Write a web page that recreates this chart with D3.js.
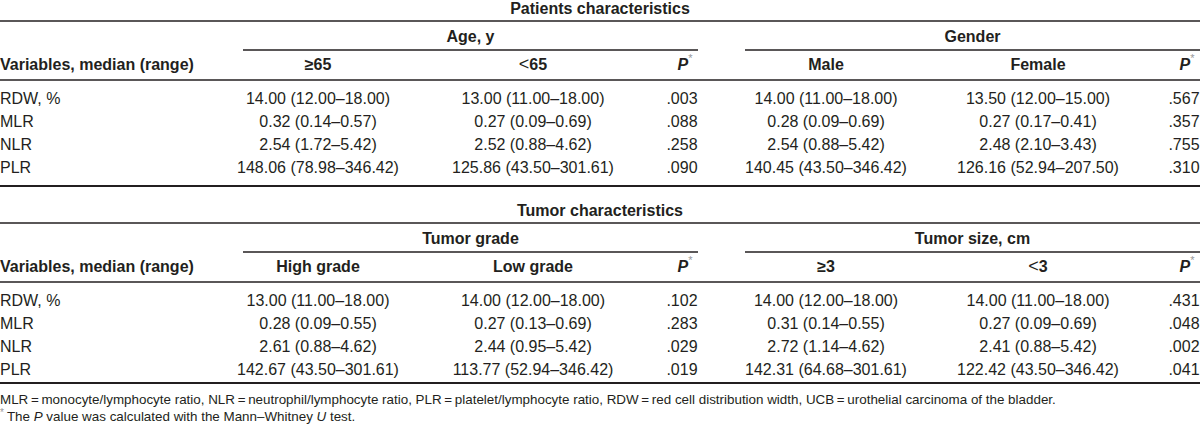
<!DOCTYPE html>
<html><head><meta charset="utf-8">
<script src="https://cdn.jsdelivr.net/npm/d3@7"></script>
<style>
html,body{margin:0;padding:0;background:#fff;}
svg text{font-family:"Liberation Sans",Arial,sans-serif;fill:#231f20;}
</style></head>
<body><svg id="c" width="1200" height="433"></svg>
<script>
// ---- data ----
const variables = ["RDW, %", "MLR", "NLR", "PLR"];

// Patients characteristics
const ageGe65Median = [14.00, 0.32, 2.54, 148.06];
const ageGe65Low    = [12.00, 0.14, 1.72, 78.98];
const ageGe65High   = [18.00, 0.57, 5.42, 346.42];
const ageLt65Median = [13.00, 0.27, 2.52, 125.86];
const ageLt65Low    = [11.00, 0.09, 0.88, 43.50];
const ageLt65High   = [18.00, 0.69, 4.62, 301.61];
const ageP          = [0.003, 0.088, 0.258, 0.090];
const maleMedian    = [14.00, 0.28, 2.54, 140.45];
const maleLow       = [11.00, 0.09, 0.88, 43.50];
const maleHigh      = [18.00, 0.69, 5.42, 346.42];
const femaleMedian  = [13.50, 0.27, 2.48, 126.16];
const femaleLow     = [12.00, 0.17, 2.10, 52.94];
const femaleHigh    = [15.00, 0.41, 3.43, 207.50];
const genderP       = [0.567, 0.357, 0.755, 0.310];

// Tumor characteristics
const highGradeMedian = [13.00, 0.28, 2.61, 142.67];
const highGradeLow    = [11.00, 0.09, 0.88, 43.50];
const highGradeHigh   = [18.00, 0.55, 4.62, 301.61];
const lowGradeMedian  = [14.00, 0.27, 2.44, 113.77];
const lowGradeLow     = [12.00, 0.13, 0.95, 52.94];
const lowGradeHigh    = [18.00, 0.69, 5.42, 346.42];
const gradeP          = [0.102, 0.283, 0.029, 0.019];
const sizeGe3Median   = [14.00, 0.31, 2.72, 142.31];
const sizeGe3Low      = [12.00, 0.14, 1.14, 64.68];
const sizeGe3High     = [18.00, 0.55, 4.62, 301.61];
const sizeLt3Median   = [14.00, 0.27, 2.41, 122.42];
const sizeLt3Low      = [11.00, 0.09, 0.88, 43.50];
const sizeLt3High     = [18.00, 0.69, 5.42, 346.42];
const sizeP           = [0.431, 0.048, 0.002, 0.041];

const tableTitles = ["Patients characteristics", "Tumor characteristics"];
const groupLabels = [["Age, y", "Gender"], ["Tumor grade", "Tumor size, cm"]];
const subLabels = [[["\u226565"], ["<", "65"], ["Male"], ["Female"]],
                   [["High grade"], ["Low grade"], ["\u22653"], ["<", "3"]]];
const stubHeader = "Variables, median (range)";
const footnote1 = "MLR\u2009=\u2009monocyte/lymphocyte ratio, NLR\u2009=\u2009neutrophil/lymphocyte ratio, PLR\u2009=\u2009platelet/lymphocyte ratio, RDW\u2009=\u2009red cell distribution width, UCB\u2009=\u2009urothelial carcinoma of the bladder.";

const tables = [
  { cols: [[ageGe65Median, ageGe65Low, ageGe65High], [ageLt65Median, ageLt65Low, ageLt65High],
           [maleMedian, maleLow, maleHigh], [femaleMedian, femaleLow, femaleHigh]],
    p: [ageP, genderP] },
  { cols: [[highGradeMedian, highGradeLow, highGradeHigh], [lowGradeMedian, lowGradeLow, lowGradeHigh],
           [sizeGe3Median, sizeGe3Low, sizeGe3High], [sizeLt3Median, sizeLt3Low, sizeLt3High]],
    p: [gradeP, sizeP] }
];

// ---- layout ----
const W = 1200;
const svg = d3.select("#c");
const ink = "#231f20";
const FS = 16;
const colX = d3.scaleOrdinal().domain(["a","b","pa","c","d","pb"]).range([318, 533, 682, 826, 1038, 1184]);
const groupSpan = [[243, 698], [745, 1200]];
const fmt = v => v.toFixed(2);
const fmtP = v => v.toFixed(3).replace(/^0/, "");

const tableTop = [0, 202];
const bottomLine = [186, 181];

tables.forEach((t, ti) => {
  const g = svg.append("g").attr("transform", `translate(0,${tableTop[ti]})`);
  const y = d3.scalePoint().domain(variables).range([104, 173]);

  g.append("text").attr("x", W/2).attr("y", 14).attr("text-anchor", "middle")
    .attr("font-size", FS).attr("font-weight", "bold").text(tableTitles[ti]);
  g.append("line").attr("x1", 0).attr("x2", W).attr("y1", 21).attr("y2", 21)
    .attr("stroke", ink).attr("stroke-width", 1.3);

  groupSpan.forEach((s, gi) => {
    g.append("text").attr("x", (s[0]+s[1])/2).attr("y", 42).attr("text-anchor", "middle")
      .attr("font-size", FS).attr("font-weight", "bold").text(groupLabels[ti][gi]);
    g.append("line").attr("x1", s[0]).attr("x2", s[1]).attr("y1", 50).attr("y2", 50)
      .attr("stroke", ink).attr("stroke-width", 1.3);
  });

  g.append("text").attr("x", 0).attr("y", 70).attr("font-size", FS).attr("font-weight", "bold").text(stubHeader);
  ["a","b","c","d"].forEach((k, ci) => {
    const parts = subLabels[ti][ci];
    const tx = g.append("text").attr("x", colX(k)).attr("y", 70).attr("text-anchor", "middle")
      .attr("font-size", FS).attr("font-weight", "bold");
    if (parts.length === 2) {
      tx.append("tspan").attr("font-weight", "normal").attr("font-size", FS+2).text(parts[0]);
      tx.append("tspan").text(parts[1]);
    } else tx.text(parts[0]);
  });
  ["pa","pb"].forEach(k => {
    const tx = g.append("text").attr("x", colX(k) + 3).attr("y", 70).attr("text-anchor", "middle")
      .attr("font-size", FS).attr("font-weight", "bold");
    tx.append("tspan").attr("font-style", "italic").text("P");
    tx.append("tspan").attr("font-size", 11).attr("font-weight", "normal").attr("dy", -8).attr("fill", "#999").text("*");
  });
  g.append("line").attr("x1", 0).attr("x2", W).attr("y1", 80).attr("y2", 80)
    .attr("stroke", ink).attr("stroke-width", 1.3);

  variables.forEach(v => {
    g.append("text").attr("x", 0).attr("y", y(v)).attr("font-size", FS).text(v);
  });
  ["a","b","c","d"].forEach((k, ci) => {
    const [med, lo, hi] = t.cols[ci];
    g.selectAll(null).data(variables).enter().append("text")
      .attr("x", colX(k)).attr("y", d => y(d)).attr("text-anchor", "middle").attr("font-size", FS)
      .text((d, i) => `${fmt(med[i])} (${fmt(lo[i])}\u2013${fmt(hi[i])})`);
  });
  ["pa","pb"].forEach((k, pi) => {
    g.selectAll(null).data(variables).enter().append("text")
      .attr("x", colX(k)).attr("y", d => y(d)).attr("text-anchor", "middle").attr("font-size", FS)
      .text((d, i) => fmtP(t.p[pi][i]));
  });
  g.append("line").attr("x1", 0).attr("x2", W).attr("y1", bottomLine[ti]).attr("y2", bottomLine[ti])
    .attr("stroke", ink).attr("stroke-width", 2);
});

svg.append("text").attr("x", 0).attr("y", 404).attr("font-size", 13.4).text(footnote1);
const f2 = svg.append("text").attr("x", 0).attr("y", 421).attr("font-size", 13.4);
f2.append("tspan").attr("font-size", 10).attr("dy", -5).attr("fill", "#999").text("*");
f2.append("tspan").attr("dy", 5).attr("dx", 3).text("The ");
f2.append("tspan").attr("font-style", "italic").text("P");
f2.append("tspan").text(" value was calculated with the Mann\u2013Whitney ");
f2.append("tspan").attr("font-style", "italic").text("U");
f2.append("tspan").text(" test.");
</script></body></html>
